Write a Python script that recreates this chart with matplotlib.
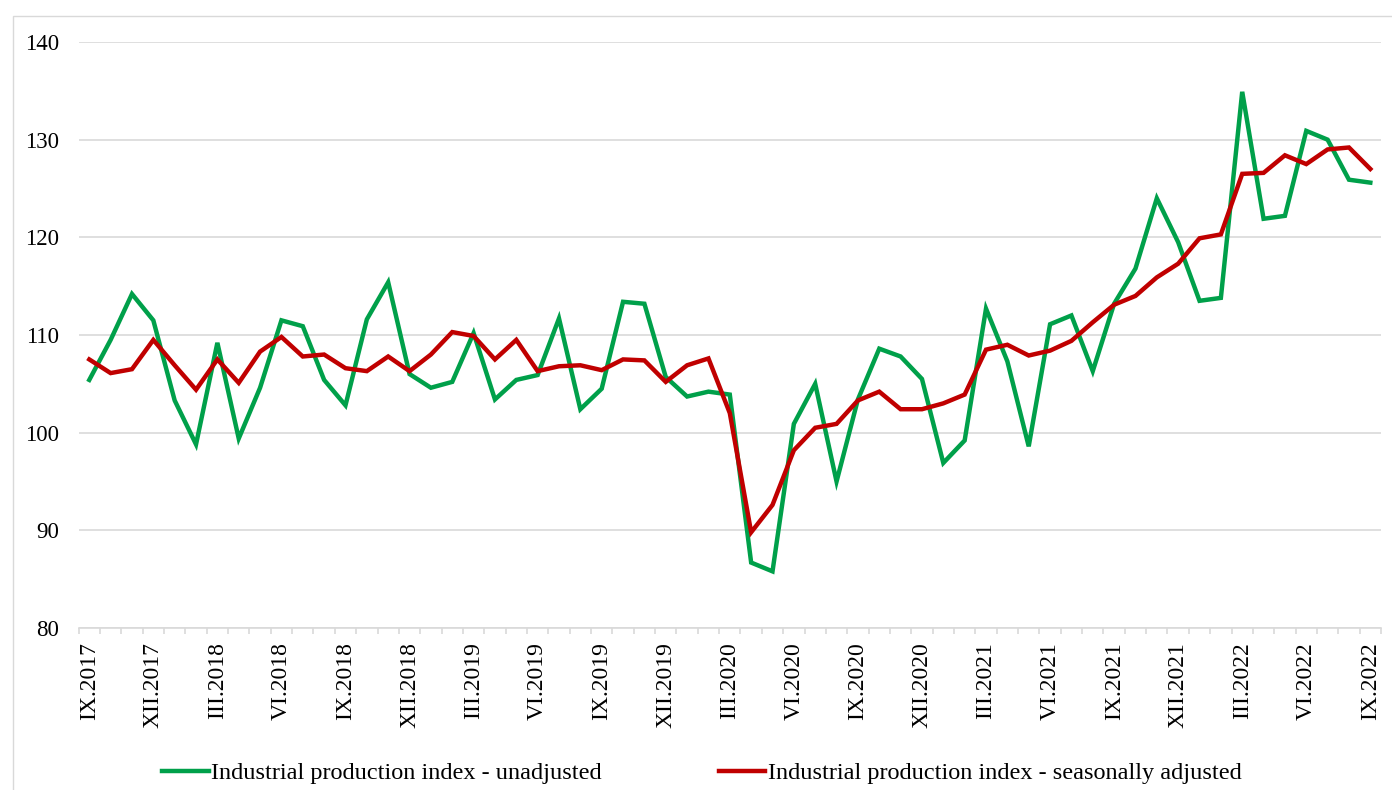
import numpy as np
import matplotlib
matplotlib.use("Agg")
import matplotlib.pyplot as plt
from matplotlib.patches import Rectangle

plt.rcParams['font.family'] = ['Liberation Serif', 'DejaVu Serif']

# monthly, IX.2017 .. IX.2022
unadjusted = [105.4, 109.5, 114.2, 111.5, 103.3, 98.8, 109.2, 99.4, 104.6, 111.5,
              110.9, 105.4, 102.8, 111.6, 115.4, 106.0, 104.6, 105.2, 110.2, 103.4,
              105.4, 105.9, 111.7, 102.4, 104.5, 113.4, 113.2, 105.7, 103.7, 104.2,
              103.9, 86.7, 85.8, 100.9, 105.0, 95.0, 103.4, 108.6, 107.8, 105.5,
              96.9, 99.2, 112.7, 107.3, 98.6, 111.1, 112.0, 106.3, 113.2, 116.8,
              124.0, 119.5, 113.5, 113.8, 134.9, 121.9, 122.2, 130.9, 130.0, 125.9,
              125.6]
adjusted = [107.5, 106.1, 106.5, 109.5, 106.9, 104.4, 107.5, 105.1, 108.3, 109.8,
            107.8, 108.0, 106.6, 106.3, 107.8, 106.3, 108.0, 110.3, 109.9, 107.5,
            109.5, 106.3, 106.8, 106.9, 106.4, 107.5, 107.4, 105.2, 106.9, 107.6,
            102.0, 89.8, 92.6, 98.2, 100.5, 100.9, 103.3, 104.2, 102.4, 102.4,
            103.0, 103.9, 108.5, 109.0, 107.9, 108.4, 109.4, 111.3, 113.1, 114.0,
            115.9, 117.3, 119.9, 120.3, 126.5, 126.6, 128.4, 127.5, 129.0, 129.2,
            127.0]

roman = ['I', 'II', 'III', 'IV', 'V', 'VI', 'VII', 'VIII', 'IX', 'X', 'XI', 'XII']
labels = []
for k in range(len(unadjusted)):
    m = (8 + k) % 12
    y = 2017 + (8 + k) // 12
    labels.append(roman[m] + '.' + str(y))

x = np.arange(len(unadjusted))

fig = plt.figure(figsize=(13.92, 7.9), dpi=100)
ax = fig.add_axes([78.6 / 1392, 1 - 628 / 790, (1381 - 78.6) / 1392, (628 - 42) / 790])

# outer chart border (light gray)
fig.patches.append(Rectangle((12.5 / 1392, -0.05), 1.2, 1 - 16 / 790 + 0.05,
                             transform=fig.transFigure, fill=False,
                             edgecolor='#D9D9D9', linewidth=1))

ax.plot(x, unadjusted, color='#00A04A', linewidth=3.2, solid_joinstyle='miter',
        label='Industrial production index - unadjusted', zorder=3)
ax.plot(x, adjusted, color='#C00000', linewidth=3.2, solid_joinstyle='miter',
        label='Industrial production index - seasonally adjusted', zorder=4)

ax.set_xlim(-0.5, len(x) - 0.5)
ax.set_ylim(80, 140)
ax.set_yticks(np.arange(80, 141, 10))
ax.yaxis.grid(True, color='#D9D9D9', linewidth=1.2)
ax.set_axisbelow(True)

ax.set_xticks(x[::3])
ax.set_xticklabels(labels[::3], rotation=90, fontsize=17)
ax.set_xticks(np.arange(-0.5, len(x), 1), minor=True)
ax.tick_params(axis='x', which='major', length=0, pad=10)
ax.tick_params(axis='x', which='minor', length=4.5, color='#D9D9D9', width=1.2)
ax.tick_params(axis='y', length=0, pad=14, labelsize=16.5)

for s in ['top', 'right', 'left']:
    ax.spines[s].set_visible(False)
ax.spines['bottom'].set_color('#D9D9D9')
ax.spines['bottom'].set_linewidth(1.2)

fig.legend(loc='center', bbox_to_anchor=(0.5043, 1 - 773 / 790), ncol=2, frameon=False,
           fontsize=17.5, handlelength=1.9, handletextpad=0.12, columnspacing=4.8)

fig.savefig('out.png', dpi=100)
